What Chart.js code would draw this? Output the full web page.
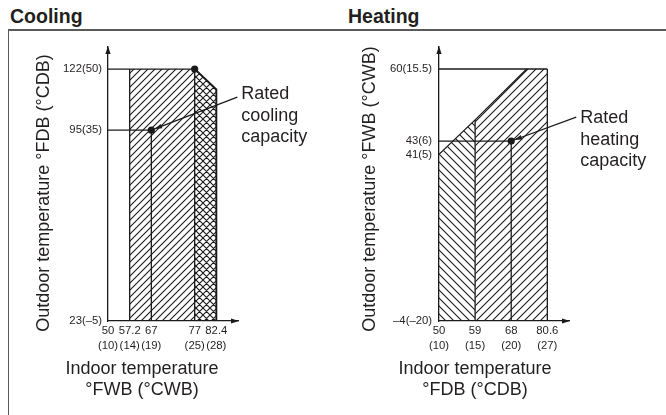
<!DOCTYPE html>
<html>
<head>
<meta charset="utf-8">
<script src="https://cdn.jsdelivr.net/npm/chart.js@4/dist/chart.umd.min.js"></script>
<style>
body { margin: 0; width: 666px; height: 415px; background: #fff; position: relative; overflow: hidden; font-family: 'Liberation Sans', Arial, sans-serif; color: #231f20; }
.frame { position: absolute; left: 8px; top: 29px; width: 700px; height: 420px; border-top: 2px solid #5a5a5a; border-left: 1.5px solid #5a5a5a; }
.ttl { position: absolute; top: 4px; font-weight: bold; font-size: 19.5px; line-height: 24px; }
canvas { position: absolute; top: 0; }
</style>
</head>
<body>
<div class="frame"></div>
<div class="ttl" style="left:10px">Cooling</div>
<div class="ttl" style="left:348px">Heating</div>
<canvas id="cool" width="333" height="415" style="left:0"></canvas>
<canvas id="heat" width="333" height="415" style="left:333px"></canvas>
<script>
// cooling: indoor °FWB (°CWB) vs outdoor °FDB (°CDB)
const coolXF = [50, 57.2, 67, 77, 82.4];
const coolXC = [10, 14, 19, 25, 28];
const coolYF = [23, 95, 122];
const coolYC = [-5, 35, 50];
const coolBandX = [57.2, 77];
const coolBandTop = 122;
const coolHighX = [77, 82.4];
const coolHighY = [122, 113];
const coolRated = [67, 95];

// heating: indoor °FDB (°CDB) vs outdoor °FWB (°CWB)
const heatXF = [50, 59, 68, 80.6];
const heatXC = [10, 15, 20, 27];
const heatYF = [-4, 41, 43, 60];
const heatYC = [-20, 5, 6, 15.5];
const heatEdgeX = [50, 59, 73.4, 80.6];
const heatEdgeY = [41, 48, 60, 60];
const heatRated = [68, 43];

// the drawing is schematic: where each tick sits along its axis
const coolXPos = [0, 1, 2, 4, 5];
const coolYPos = [0, 3.03, 4];
const heatXPos = [0, 1, 2, 3];
const heatYPos = [0, 11.9, 12.85, 18];

const ink = '#1a1a1a';
const font = "'Liberation Sans', Arial, sans-serif";

function toPos(v, ticks, pos) {
    let i = 0;
    while (i < ticks.length - 2 && v > ticks[i + 1]) i++;
    const t = (v - ticks[i]) / (ticks[i + 1] - ticks[i]);
    return pos[i] + t * (pos[i + 1] - pos[i]);
}

const dash = (v) => String(v).replace('-', '\u2013');

function hatch(size, kinds) {
    const c = document.createElement('canvas');
    c.width = c.height = size;
    const g = c.getContext('2d');
    g.strokeStyle = ink;
    g.lineWidth = 1.1;
    g.beginPath();
    if (kinds.includes('/')) {
        g.moveTo(-1, size + 1); g.lineTo(size + 1, -1);
        g.moveTo(-1, 1); g.lineTo(1, -1);
        g.moveTo(size - 1, size + 1); g.lineTo(size + 1, size - 1);
    }
    if (kinds.includes('\\')) {
        g.moveTo(-1, -1); g.lineTo(size + 1, size + 1);
        g.moveTo(-1, size - 1); g.lineTo(1, size + 1);
        g.moveTo(size - 1, -1); g.lineTo(size + 1, 1);
    }
    g.stroke();
    return g.createPattern(c, 'repeat');
}

const decor = {
    id: 'decor',
    afterDraw(chart, args, o) {
        const { ctx, chartArea: a, scales: { x, y } } = chart;
        ctx.save();
        ctx.fillStyle = ink;
        ctx.strokeStyle = ink;
        // axis arrowheads
        ctx.beginPath();
        ctx.moveTo(a.left, a.top - 1);
        ctx.lineTo(a.left - 2.6, a.top + 7);
        ctx.lineTo(a.left + 2.6, a.top + 7);
        ctx.fill();
        ctx.beginPath();
        ctx.moveTo(a.right + 1, a.bottom);
        ctx.lineTo(a.right - 7, a.bottom - 2.6);
        ctx.lineTo(a.right - 7, a.bottom + 2.6);
        ctx.fill();

        // axis titles
        ctx.font = '18px ' + font;
        ctx.fillStyle = '#231f20';
        ctx.textAlign = 'center';
        ctx.textBaseline = 'middle';
        ctx.save();
        ctx.translate(a.left + o.yTitleAt[0], (a.top + a.bottom) / 2 + o.yTitleAt[1]);
        ctx.rotate(-Math.PI / 2);
        ctx.fillText(o.yTitle, 0, 0);
        ctx.restore();
        o.xTitle.forEach((t, i) => ctx.fillText(t, a.left + o.xTitleAt, a.bottom + 48 + i * 21));

        // rated capacity callout
        const px = x.getPixelForValue(o.point[0]);
        const py = y.getPixelForValue(o.point[1]);
        const sx = px + o.lead[0], sy = py + o.lead[1];
        const ang = Math.atan2(py - sy, px - sx);
        const tx = px - Math.cos(ang) * 3, ty = py - Math.sin(ang) * 3;
        ctx.lineWidth = 1.2;
        ctx.beginPath();
        ctx.moveTo(sx, sy);
        ctx.lineTo(tx, ty);
        ctx.stroke();
        ctx.beginPath();
        ctx.moveTo(tx, ty);
        ctx.lineTo(tx - Math.cos(ang) * 8 - Math.sin(ang) * 2.3, ty - Math.sin(ang) * 8 + Math.cos(ang) * 2.3);
        ctx.lineTo(tx - Math.cos(ang) * 8 + Math.sin(ang) * 2.3, ty - Math.sin(ang) * 8 - Math.cos(ang) * 2.3);
        ctx.fill();
        ctx.textAlign = 'left';
        o.note.forEach((t, i) => ctx.fillText(t, px + o.noteAt[0], py + o.noteAt[1] + i * 21.5));
        ctx.restore();
    }
};

function makeChart(id, cfg) {
    const mx = (v) => toPos(v, cfg.xF, cfg.xPos);
    const my = (v) => toPos(v, cfg.yF, cfg.yPos);
    const pts = (arr) => arr.map(([a, b]) => ({ x: mx(a), y: my(b) }));
    const line = (arr, extra) => Object.assign({
        data: pts(arr), borderColor: ink, borderWidth: 1.3, pointRadius: 0, fill: false, tension: 0
    }, extra || {});

    const datasets = [
        line(cfg.dots, { showLine: false, pointRadius: 3.6, pointBackgroundColor: ink, pointBorderWidth: 0 })
    ].concat(cfg.lines.map((l) => line(l.pts, l.style)))
     .concat(cfg.fills.map((f) => line(f.pts, { borderWidth: 0, fill: 'start', backgroundColor: f.pattern })));

    const tickFont = { family: font, size: 11.3, lineHeight: '15px' };
    return new Chart(document.getElementById(id), {
        type: 'line',
        data: { datasets },
        options: {
            responsive: false,
            animation: false,
            events: [],
            layout: { padding: { left: 20, top: 47, right: cfg.padRight, bottom: 0 } },
            plugins: { legend: { display: false }, tooltip: { enabled: false }, decor: cfg.decor },
            scales: {
                x: {
                    type: 'linear', min: 0, max: cfg.xMax,
                    grid: { display: false, drawTicks: false },
                    border: { display: true, color: ink, width: 1.3 },
                    afterBuildTicks: (s) => { s.ticks = cfg.xPos.map((v) => ({ value: v })); },
                    afterFit: (s) => { s.height = 94; },
                    ticks: {
                        autoSkip: false, maxRotation: 0, minRotation: 0, padding: 2.5,
                        color: '#231f20', font: tickFont,
                        callback: (v, i) => [String(cfg.xF[i]), '(' + cfg.xC[i] + ')']
                    }
                },
                y: {
                    type: 'linear', min: 0, max: cfg.yMax,
                    grid: { display: false, drawTicks: false },
                    border: { display: true, color: ink, width: 1.3 },
                    afterBuildTicks: (s) => { s.ticks = cfg.yPos.map((v) => ({ value: v })); },
                    afterFit: (s) => { s.width = cfg.yWidth; },
                    ticks: {
                        autoSkip: false, padding: cfg.yPad,
                        color: '#231f20', font: tickFont,
                        callback: (v, i) => dash(cfg.yF[i]) + '(' + dash(cfg.yC[i]) + ')'
                    }
                }
            }
        },
        plugins: [decor]
    });
}

const xMin = coolXF[0], yMin = coolYF[0];
makeChart('cool', {
    xF: coolXF, xC: coolXC, yF: coolYF, yC: coolYC,
    xPos: coolXPos, yPos: coolYPos, xMax: 6, yMax: 4.35,
    padRight: 95, yWidth: 88, yPad: 6,
    dots: [[coolBandX[1], coolBandTop], coolRated],
    lines: [
        { pts: [[xMin, coolBandTop], [coolBandX[1], coolBandTop]] },
        { pts: [[xMin, coolRated[1]], coolRated] },
        { pts: [[coolBandX[0], yMin], [coolBandX[0], coolBandTop]] },
        { pts: [[coolRated[0], yMin], coolRated] },
        { pts: [[coolBandX[1], yMin], [coolBandX[1], coolBandTop]] },
        { pts: [[coolHighX[0], coolHighY[0]], [coolHighX[1], coolHighY[1]], [coolHighX[1], yMin]], style: { borderWidth: 1.9 } }
    ],
    fills: [
        { pts: [[coolBandX[0], coolBandTop], [coolBandX[1], coolBandTop]], pattern: hatch(7, '/') },
        { pts: [[coolHighX[0], coolHighY[0]], [coolHighX[1], coolHighY[1]]], pattern: hatch(7, '/\\') }
    ],
    decor: {
        yTitle: 'Outdoor temperature \u00b0FDB (\u00b0CDB)', yTitleAt: [-64, 9],
        xTitle: ['Indoor temperature', '\u00b0FWB (\u00b0CWB)'], xTitleAt: 34,
        point: [toPos(coolRated[0], coolXF, coolXPos), toPos(coolRated[1], coolYF, coolYPos)],
        lead: [86, -33], note: ['Rated', 'cooling', 'capacity'], noteAt: [90, -36]
    }
});

const hxMin = heatXF[0], hyMin = heatYF[0], hyTop = heatYF[3];
makeChart('heat', {
    xF: heatXF, xC: heatXC, yF: heatYF, yC: heatYC,
    xPos: heatXPos, yPos: heatYPos, xMax: 3.6, yMax: 19.57,
    padRight: 97, yWidth: 86, yPad: 7,
    dots: [heatRated],
    lines: [
        { pts: [[hxMin, hyTop], [heatEdgeX[3], hyTop]] },
        { pts: [[hxMin, heatRated[1]], heatRated] },
        { pts: [[heatEdgeX[1], hyMin], [heatEdgeX[1], heatEdgeY[1]]] },
        { pts: [[heatRated[0], hyMin], heatRated] },
        { pts: [[heatEdgeX[3], hyMin], [heatEdgeX[3], hyTop]] },
        { pts: heatEdgeX.slice(0, 3).map((v, i) => [v, heatEdgeY[i]]) }
    ],
    fills: [
        { pts: heatEdgeX.slice(0, 2).map((v, i) => [v, heatEdgeY[i]]), pattern: hatch(8, '\\') },
        { pts: heatEdgeX.slice(1).map((v, i) => [v, heatEdgeY[i + 1]]), pattern: hatch(8, '/') }
    ],
    decor: {
        yTitle: 'Outdoor temperature \u00b0FWB (\u00b0CWB)', yTitleAt: [-69, 5],
        xTitle: ['Indoor temperature', '\u00b0FDB (\u00b0CDB)'], xTitleAt: 36,
        point: [toPos(heatRated[0], heatXF, heatXPos), toPos(heatRated[1], heatYF, heatYPos)],
        lead: [65, -24], note: ['Rated', 'heating', 'capacity'], noteAt: [69, -23]
    }
});
</script>
</body>
</html>
